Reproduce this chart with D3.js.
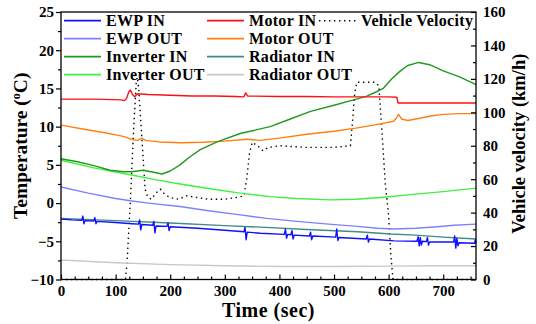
<!DOCTYPE html>
<html><head><meta charset="utf-8">
<script src="https://cdn.jsdelivr.net/npm/d3@7"></script>
<style>
html,body{margin:0;padding:0;background:#fff;}
svg text{font-family:"Liberation Serif","Times New Roman",serif;font-weight:bold;fill:#000;}
</style></head>
<body><svg id="c" width="536" height="324"></svg>
<script>
// ---- data (time in sec, temperature in °C, velocity in km/h) ----
const seriesNames = ["EWP IN","EWP OUT","Inverter IN","Inverter OUT","Motor IN","Motor OUT","Radiator IN","Radiator OUT"];
const seriesColors = ["#1010ff","#8080ff","#1f9a1f","#3ff03f","#ff1010","#ff8010","#3f8c88","#c8c8c8"];

const ewpIn = [[0,-2.1],[20,-2.2],[38,-2.25],[40,-1.7],[42,-2.7],[44,-2.3],[60,-2.35],[62,-1.9],[64,-2.7],[66,-2.4],[100,-2.55],[130,-2.7],[142,-2.75],[144,-2.2],[146,-3.5],[148,-2.8],[168,-2.9],[170,-2.4],[172,-3.9],[174,-3.0],[194,-3.05],[196,-2.6],[198,-3.6],[200,-3.1],[250,-3.3],[300,-3.55],[335,-3.75],[337,-3.2],[339,-4.8],[341,-3.8],[365,-3.95],[409,-4.1],[411,-3.4],[413,-4.6],[415,-4.1],[421,-4.15],[423,-3.6],[425,-4.7],[427,-4.2],[455,-4.3],[457,-3.8],[459,-4.8],[461,-4.3],[503,-4.45],[505,-3.4],[507,-4.9],[509,-4.5],[559,-4.7],[561,-4.2],[563,-5.1],[565,-4.7],[610,-4.95],[652,-5.0],[654,-4.4],[656,-5.6],[658,-4.5],[660,-5.5],[662,-5.0],[669,-5.05],[671,-4.5],[673,-5.5],[675,-5.1],[719,-5.1],[721,-4.3],[723,-5.9],[725,-4.6],[727,-5.6],[729,-5.2],[757,-5.25],[759,-4.8],[760,-5.3]];
const ewpOut = [[0,2.1],[50,1.3],[100,0.6],[127,0.3],[160,0.0],[218,-0.45],[270,-1.0],[328,-1.55],[377,-2.0],[432,-2.4],[490,-2.75],[543,-3.05],[580,-3.3],[610,-3.4],[650,-3.3],[689,-3.1],[720,-2.9],[760,-2.75]];
const inverterIn = [[0,5.8],[30,5.4],[60,4.9],[90,4.3],[115,4.1],[130,4.1],[150,4.3],[165,4.1],[185,3.8],[200,4.2],[218,5.0],[235,6.0],[255,7.0],[286,8.0],[328,9.1],[365,9.7],[383,10.0],[420,11.0],[457,12.0],[500,12.8],[536,13.5],[560,14.0],[576,14.5],[590,15.0],[605,16.2],[620,17.2],[635,18.0],[655,18.4],[675,18.1],[700,17.3],[730,16.5],[760,15.5]];
const inverterOut = [[0,5.6],[60,4.6],[127,3.7],[170,3.1],[218,2.5],[270,1.9],[328,1.3],[383,0.85],[430,0.6],[493,0.42],[540,0.5],[591,0.77],[640,1.1],[700,1.5],[760,1.95]];
const motorIn = [[0,13.6],[60,13.6],[110,13.5],[116,13.4],[120,13.7],[124,14.5],[127,14.8],[131,14.2],[135,13.9],[140,14.3],[160,14.2],[200,14.1],[240,14.0],[280,14.0],[320,13.95],[335,13.9],[338,14.4],[342,14.0],[400,13.95],[450,13.95],[500,13.9],[550,13.9],[600,13.9],[615,13.85],[617,13.1],[650,13.1],[700,13.1],[760,13.1]];
const motorOut = [[0,10.2],[40,9.7],[80,9.2],[110,8.8],[120,8.6],[130,8.3],[140,8.2],[148,8.5],[155,8.2],[180,8.0],[220,7.9],[260,7.95],[300,8.1],[340,8.35],[365,8.2],[400,8.5],[450,9.0],[500,9.4],[540,9.8],[580,10.3],[609,10.7],[614,11.1],[618,11.6],[624,11.0],[635,10.8],[650,11.0],[677,11.4],[700,11.6],[730,11.7],[760,11.7]];
const radiatorIn = [[0,-2.0],[100,-2.3],[200,-2.6],[300,-2.95],[365,-3.15],[450,-3.45],[543,-3.75],[604,-4.05],[650,-4.2],[700,-4.45],[760,-4.7]];
const radiatorOut = [[0,-7.45],[100,-7.8],[200,-8.05],[300,-8.2],[400,-8.3],[500,-8.3],[600,-8.25],[700,-8.2],[760,-8.2]];
const velocity = [[0,0],[118,0],[121,10],[127,47],[133,90],[138,119],[140,121],[142,115],[145,100],[149,80],[154,54],[158,50],[165,48],[175,52],[182,54],[190,51],[200,49],[215,48],[230,50],[250,49],[270,48],[300,48],[320,49],[335,50],[340,60],[345,75],[350,82],[360,80],[370,77],[380,79],[400,80],[450,79],[500,79],[530,80],[534,95],[538,112],[542,118],[560,118],[575,118],[582,116],[587,92],[594,57],[600,38],[604,15],[608,0],[760,0]];

const tempSeries = [ewpIn, ewpOut, inverterIn, inverterOut, motorIn, motorOut, radiatorIn, radiatorOut];

const xTicks = [0,100,200,300,400,500,600,700];
const leftTicks = [-10,-5,0,5,10,15,20,25];
const rightTicks = [0,20,40,60,80,100,120,140,160];

// ---- layout ----
const svg = d3.select("#c");
const L = 61, R = 476, T = 12, B = 279.5;
const x = d3.scaleLinear().domain([0,760]).range([L,R]);
const y = d3.scaleLinear().domain([-10,25]).range([B,T]);
const yv = d3.scaleLinear().domain([0,160]).range([B,T]);

// lines
const line = d3.line().x(d=>x(d[0])).y(d=>y(d[1]));
const vline = d3.line().x(d=>x(d[0])).y(d=>yv(d[1]));

svg.append("path").attr("d", vline(velocity)).attr("fill","none")
  .attr("stroke","#000").attr("stroke-width",1.4).attr("stroke-dasharray","1.4,3.6");

const drawOrder = [7,6,1,3,5,2,4,0];
drawOrder.forEach(i=>{
  svg.append("path").attr("d", line(tempSeries[i])).attr("fill","none")
    .attr("stroke", seriesColors[i]).attr("stroke-width",1.4).attr("stroke-linejoin","round");
});

// frame
svg.append("rect").attr("x",L).attr("y",T).attr("width",R-L).attr("height",B-T)
  .attr("fill","none").attr("stroke","#000").attr("stroke-width",1.3);

// axes
function styleAxis(g){
  g.select(".domain").remove();
  g.selectAll("line").attr("stroke","#000").attr("stroke-width",1.2);
  g.selectAll("text").style("font-size","15px").style("font-family","Liberation Serif, Times New Roman, serif").style("font-weight","bold");
}
const minorX = d3.range(0,761,25).filter(v=>v%100!==0);
svg.append("g").attr("transform",`translate(0,${B})`)
  .call(d3.axisBottom(x).tickValues(minorX).tickSize(-3).tickFormat("")).call(styleAxis);
svg.append("g").attr("transform",`translate(0,${B})`)
  .call(d3.axisBottom(x).tickValues(xTicks).tickSize(-5).tickPadding(6).tickFormat(d3.format("d"))).call(styleAxis);

const minorL = d3.range(-7.5,25,5);
svg.append("g").attr("transform",`translate(${L},0)`)
  .call(d3.axisLeft(y).tickValues(minorL).tickSize(3).tickFormat("")).call(styleAxis);
svg.append("g").attr("transform",`translate(${L},0)`)
  .call(d3.axisLeft(y).tickValues(leftTicks).tickSize(5).tickPadding(2).tickFormat(d3.format("d"))).call(styleAxis);

const minorR = d3.range(10,160,20);
svg.append("g").attr("transform",`translate(${R},0)`)
  .call(d3.axisRight(yv).tickValues(minorR).tickSize(-3).tickFormat("")).call(styleAxis);
svg.append("g").attr("transform",`translate(${R},0)`)
  .call(d3.axisRight(yv).tickValues(rightTicks).tickSize(-5).tickPadding(7).tickFormat(d3.format("d"))).call(styleAxis);

// axis titles
svg.append("text").attr("x",(L+R)/2).attr("y",317).attr("text-anchor","middle")
  .style("font-size","20px").style("letter-spacing","0.5px").text("Time (sec)");
const lt = svg.append("text").attr("transform",`translate(27,${(T+B)/2}) rotate(-90)`)
  .attr("text-anchor","middle").style("font-size","19.5px");
lt.append("tspan").text("Temperature (");
lt.append("tspan").attr("dy","-7").style("font-size","12px").text("o");
lt.append("tspan").attr("dy","7").text("C)");
svg.append("text").attr("transform",`translate(525,${(T+B)/2-2}) rotate(-90)`)
  .attr("text-anchor","middle").style("font-size","18.5px").text("Vehicle velocity (km/h)");

// legend
const legendItems = [
  {name:seriesNames[0], color:seriesColors[0], col:0,row:0},
  {name:seriesNames[1], color:seriesColors[1], col:0,row:1},
  {name:seriesNames[2], color:seriesColors[2], col:0,row:2},
  {name:seriesNames[3], color:seriesColors[3], col:0,row:3},
  {name:seriesNames[4], color:seriesColors[4], col:1,row:0},
  {name:seriesNames[5], color:seriesColors[5], col:1,row:1},
  {name:seriesNames[6], color:seriesColors[6], col:1,row:2},
  {name:seriesNames[7], color:seriesColors[7], col:1,row:3},
  {name:"Vehicle Velocity", color:"#000", col:2,row:0, dotted:true}
];
const colX = [64,207,319];
const lg = svg.append("g");
legendItems.forEach(it=>{
  const cy = 20.7 + it.row*18;
  const x0 = colX[it.col];
  const ln = lg.append("line").attr("x1",x0).attr("x2",x0+37).attr("y1",cy).attr("y2",cy)
    .attr("stroke",it.color).attr("stroke-width",it.dotted?1.4:1.8);
  if(it.dotted) ln.attr("stroke-dasharray","1.4,3.6");
  lg.append("text").attr("x",x0+42).attr("y",cy+5.5).style("font-size","16px").style("letter-spacing","0.3px").text(it.name);
});
</script></body></html>
